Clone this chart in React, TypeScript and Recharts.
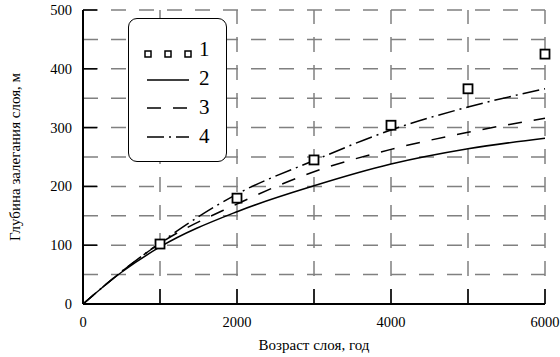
import { ComposedChart, Line, Scatter, XAxis, YAxis, ReferenceLine, Legend } from "recharts";

// depth of a layer vs its age: measured points (1) and three model curves (2-4)
const ages = [0, 500, 1000, 2000, 3000, 4000, 5000, 6000];
const curve2 = [0, 54, 97, 157, 201, 238, 264, 282];
const curve3 = [0, 55, 103, 170, 225, 263, 292, 316];
const curve4 = [0, 55, 104, 187, 244, 296, 335, 366];

const sampleAges = [1000, 2000, 3000, 4000, 5000, 6000];
const measured = [102, 180, 245, 304, 366, 425];

const xTicks = [0, 1000, 2000, 3000, 4000, 5000, 6000];
const yTicks = [0, 100, 200, 300, 400, 500];
const xGrid = [1000, 2000, 3000, 4000, 5000, 6000];
const yGrid = [50, 100, 150, 200, 250, 300, 350, 400, 450, 500];

const legendNames = ["1", "2", "3", "4"];

const FONT = "'Liberation Serif', 'Times New Roman', serif";
const DASH = "14 12";
const DASH_DOT = "17 5 2 5";
const GRID_DASH = "15 13";

const curveRows = ages.map((age, i) => ({
  age,
  c2: curve2[i],
  c3: curve3[i],
  c4: curve4[i],
}));

const pointRows = sampleAges.map((age, i) => ({ age, depth: measured[i] }));

function YTick({ x, y, payload }: any) {
  return (
    <g>
      {payload.value > 0 && <line x1={x} x2={x + 14} y1={y} y2={y} stroke="#000" strokeWidth={1.5} />}
      <text x={x - 11} y={y} dy={5} textAnchor="end" fontFamily={FONT} fontSize={14.5} fill="#000">
        {payload.value}
      </text>
    </g>
  );
}

function XTick({ x, y, payload }: any) {
  const v = payload.value;
  return (
    <g>
      {v > 0 && <line x1={x} x2={x} y1={y} y2={y - 15} stroke="#000" strokeWidth={1.5} />}
      {v % 2000 === 0 && (
        <text x={x} y={y + 23} textAnchor="middle" fontFamily={FONT} fontSize={14.5} fill="#000">
          {v}
        </text>
      )}
    </g>
  );
}

function SquareDot({ cx, cy }: any) {
  return <rect x={cx - 4.5} y={cy - 4.5} width={9} height={9} fill="#fff" stroke="#000" strokeWidth={1.8} />;
}

function LegendBox() {
  const base = [37, 66, 95, 124];
  return (
    <div
      style={{
        width: 99,
        height: 144,
        boxSizing: "border-box",
        border: "1.5px solid #000",
        borderRadius: 9,
        background: "#fff",
      }}
    >
      <svg width={96} height={141} style={{ display: "block" }}>
        {[19, 39, 59].map((cx) => (
          <rect key={cx} x={cx - 3} y={base[0] - 5} width={6} height={6} fill="#fff" stroke="#000" strokeWidth={1.5} />
        ))}
        <line x1={18} x2={60} y1={base[1] - 5} y2={base[1] - 5} stroke="#000" strokeWidth={1.5} />
        <line x1={18} x2={60} y1={base[2] - 6} y2={base[2] - 6} stroke="#000" strokeWidth={1.5} strokeDasharray={DASH} />
        <line x1={18} x2={60} y1={base[3] - 6} y2={base[3] - 6} stroke="#000" strokeWidth={1.5} strokeDasharray={DASH_DOT} />
        {legendNames.map((name, i) => (
          <text key={name} x={70} y={base[i]} fontFamily={FONT} fontSize={21} fill="#000">
            {name}
          </text>
        ))}
      </svg>
    </div>
  );
}

export default function App() {
  return (
    <div style={{ position: "fixed", left: 0, top: 0, background: "#fff" }}>
      <ComposedChart width={560} height={357} margin={{ top: 10, right: 15, bottom: 0, left: 0 }}>
        <XAxis
          dataKey="age"
          type="number"
          domain={[0, 6000]}
          ticks={xTicks}
          interval={0}
          tickSize={0}
          tickMargin={0}
          tickLine={false}
          axisLine={{ stroke: "#000", strokeWidth: 2 }}
          tick={<XTick />}
          height={53}
          allowDuplicatedCategory={false}
          label={{
            content: ({ viewBox }: any) => (
              <text
                x={viewBox.x + viewBox.width / 2}
                y={viewBox.y + 46}
                textAnchor="middle"
                fontFamily={FONT}
                fontSize={15}
                fill="#000"
              >
                Возраст слоя, год
              </text>
            ),
          }}
        />
        <YAxis
          type="number"
          domain={[0, 500]}
          ticks={yTicks}
          interval={0}
          width={83}
          tickSize={0}
          tickMargin={0}
          tickLine={false}
          axisLine={{ stroke: "#000", strokeWidth: 2 }}
          tick={<YTick />}
          label={{
            content: ({ viewBox }: any) => {
              const cx = viewBox.x + 20;
              const cy = viewBox.y + viewBox.height / 2;
              return (
                <text
                  x={cx}
                  y={cy}
                  transform={`rotate(-90, ${cx}, ${cy})`}
                  textAnchor="middle"
                  fontFamily={FONT}
                  fontSize={15}
                  fill="#000"
                >
                  Глубина залегания слоя, м
                </text>
              );
            },
          }}
        />
        {xGrid.map((v) => (
          <ReferenceLine key={"x" + v} x={v} stroke="#808080" strokeWidth={1.5} strokeDasharray={GRID_DASH} />
        ))}
        {yGrid.map((v) => (
          <ReferenceLine key={"y" + v} y={v} stroke="#808080" strokeWidth={1.5} strokeDasharray={GRID_DASH} />
        ))}
        <Line data={curveRows} dataKey="c2" type="monotone" stroke="#000" strokeWidth={1.5} dot={false} isAnimationActive={false} />
        <Line
          data={curveRows}
          dataKey="c3"
          type="monotone"
          stroke="#000"
          strokeWidth={1.5}
          strokeDasharray={DASH}
          dot={false}
          isAnimationActive={false}
        />
        <Line
          data={curveRows}
          dataKey="c4"
          type="monotone"
          stroke="#000"
          strokeWidth={1.5}
          strokeDasharray={DASH_DOT}
          dot={false}
          isAnimationActive={false}
        />
        <Scatter data={pointRows} dataKey="depth" shape={<SquareDot />} isAnimationActive={false} />
        <Legend
          layout="vertical"
          align="center"
          verticalAlign="middle"
          content={() => <LegendBox />}
          wrapperStyle={{ position: "absolute", left: 128, top: 18, width: 99, height: 144 }}
        />
      </ComposedChart>
    </div>
  );
}
